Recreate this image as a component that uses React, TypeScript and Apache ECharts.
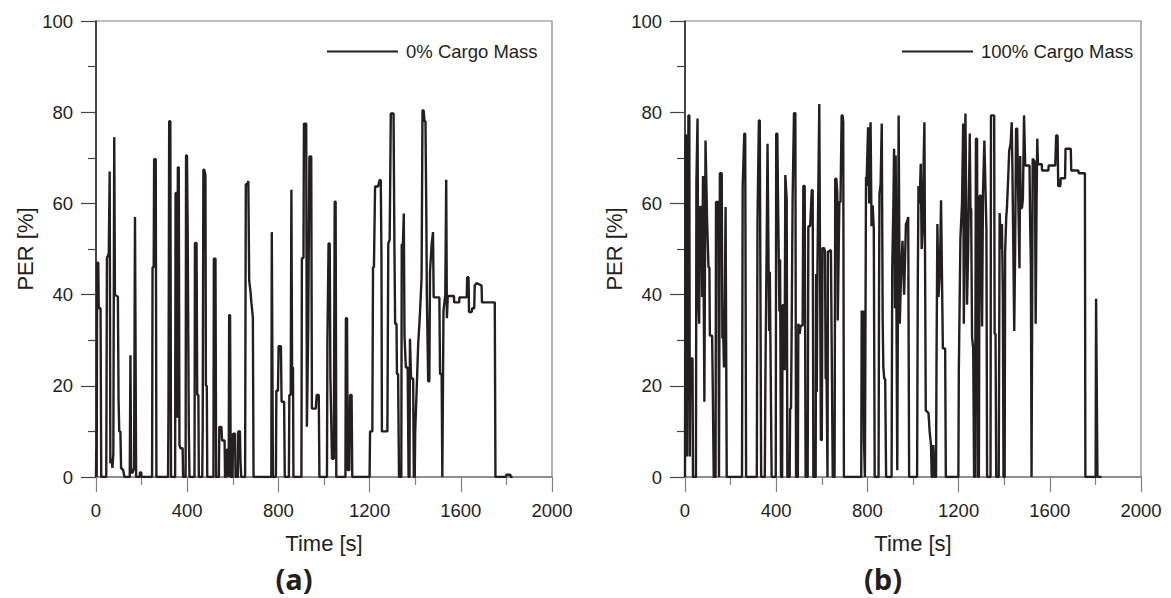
import React, { useEffect, useRef } from "react";
import * as echarts from "echarts";

const xTicks = [0, 400, 800, 1200, 1600, 2000];
const yTicks = [0, 20, 40, 60, 80, 100];
const seriesNames = ["0% Cargo Mass", "100% Cargo Mass"];
const panelLabels = ["(a)", "(b)"];
const axisNames = { x: "Time [s]", y: "PER [%]" };

// 0% cargo mass: [time s, PER %]
const perEmpty: [number, number][] = [
  [0, 0], [1, 6], [3, 0], [5, 47], [10, 47], [12, 37], [20, 37], [23, 0],
  [45, 0], [48, 48], [56, 49], [60, 67], [63, 3], [68, 4], [72, 2], [76, 5], [80, 74.5], [83, 40], [96, 39.5], [99, 17], [102, 10], [107, 10], [110, 2], [119, 1.5], [125, 0],
  [148, 0], [151, 26.7], [154, 1], [161, 1], [167, 2], [171, 57], [173, 57], [176, 0], [191, 0], [193, 1], [198, 1], [200, 0],
  [246, 0], [248, 46], [253, 46], [255, 69.7], [262, 69.7], [265, 0],
  [316, 0], [318, 16.5], [321, 78], [326, 78], [329, 0],
  [347, 0], [349, 62.3], [354, 62.3], [356, 13], [359, 67.9], [363, 67.9], [366, 7], [370, 6.3], [380, 6.3], [382, 0],
  [393, 0], [395, 70.5], [399, 70.5], [402, 55], [407, 11], [410, 0],
  [432, 0], [434, 51.3], [441, 51.3], [444, 18], [449, 18], [451, 0],
  [466, 0], [468, 11], [471, 67.4], [475, 67.4], [480, 66.2], [482, 20], [486, 20], [488, 0],
  [515, 0], [517, 47.9], [524, 47.9], [527, 0],
  [539, 0], [541, 11], [550, 11], [553, 8], [564, 8], [566, 0],
  [571, 0], [573, 6], [580, 6], [582, 0], [584, 35.5], [588, 35.5], [591, 0],
  [599, 0], [601, 9.5], [610, 9.5], [612, 0],
  [622, 0], [624, 10], [631, 10], [634, 3], [637, 0],
  [654, 0], [657, 64.2], [664, 64.2], [668, 64.9], [672, 43], [677, 41], [682, 38], [688, 35], [691, 0],
  [769, 0], [771, 53.7], [774, 53.7], [776, 0],
  [789, 0], [791, 18.9], [798, 18.9], [801, 28.7], [811, 28.7], [814, 16.5], [825, 16.5], [828, 0],
  [846, 0], [848, 18], [854, 18], [857, 63], [860, 24], [864, 24], [866, 0],
  [901, 0], [903, 48], [910, 48], [912, 77.5], [922, 77.5], [925, 11], [931, 33.6], [936, 70.3], [944, 70.3], [947, 15], [964, 15], [968, 18], [977, 18], [980, 0],
  [1013, 0], [1015, 30], [1020, 51.2], [1025, 51.2], [1028, 22], [1035, 4], [1043, 4], [1047, 60.4], [1051, 60.4], [1054, 0],
  [1094, 0], [1096, 34.8], [1101, 34.8], [1104, 1.5], [1111, 1.5], [1114, 18], [1121, 18], [1124, 0],
  [1200, 0], [1202, 10], [1212, 10], [1215, 46], [1219, 46], [1224, 63.7], [1237, 63.7], [1244, 65.1], [1249, 65.1], [1252, 48.4], [1254, 10], [1278, 10],
  [1282, 51.2], [1288, 52], [1293, 79.7], [1305, 79.7], [1309, 49.7], [1312, 33.6], [1318, 33.6], [1320, 22.6], [1325, 22.6], [1329, 0],
  [1339, 0], [1341, 51], [1346, 51], [1350, 57.8], [1353, 31], [1359, 24], [1367, 24], [1371, 0], [1375, 0], [1377, 30.3], [1382, 21.6], [1391, 21.6], [1394, 0],
  [1398, 0], [1400, 10], [1407, 20], [1413, 29], [1421, 36], [1428, 43.7], [1432, 80.4], [1437, 80.4], [1441, 78], [1445, 78], [1449, 56.4], [1451, 40], [1457, 21], [1462, 21],
  [1465, 45], [1472, 51], [1478, 53.7], [1481, 39.4], [1506, 39.4], [1509, 22.6], [1516, 22.6], [1519, 0],
  [1522, 0], [1524, 36.4], [1532, 40], [1536, 65.2], [1539, 34.8], [1543, 39.7], [1570, 39.7], [1571, 38.3], [1593, 38.3], [1594, 39.4], [1626, 39.4],
  [1628, 43.8], [1634, 43.8], [1636, 36.2], [1648, 36.2], [1650, 37], [1659, 37], [1661, 42], [1669, 42.5], [1691, 42], [1693, 38.3], [1749, 38.3], [1752, 0],
  [1797, 0], [1800, 0.5], [1817, 0.5], [1820, 0], [1827, 0],
];

// 100% cargo mass: [time s, PER %]
const perFull: [number, number][] = [
  [0, 0], [2, 74.9], [7, 74.9], [9, 4.5], [12, 40], [15, 79.3], [19, 79.3], [21, 4.5], [24, 26], [33, 26], [35, 0],
  [48, 0], [50, 64.7], [55, 78.6], [58, 40], [62, 33.6], [65, 59.2], [72, 59.2], [75, 39.5], [79, 66], [82, 66], [85, 16.5], [88, 16.5], [90, 73.8], [93, 73.8], [97, 56], [103, 46], [107, 46], [109, 31], [119, 31], [122, 19], [126, 0],
  [134, 0], [136, 60.3], [146, 60.3], [149, 0], [151, 0], [153, 66.6], [161, 66.6], [164, 30.5], [168, 30.5], [171, 24], [175, 40], [178, 59.2], [181, 59.2], [183, 0],
  [250, 0], [253, 63.8], [260, 75.3], [264, 75.3], [268, 0],
  [315, 0], [318, 56], [324, 78.2], [328, 78.2], [334, 0],
  [350, 0], [353, 24.1], [358, 50], [362, 73.1], [365, 73.1], [369, 32], [372, 45], [375, 45], [380, 0],
  [398, 0], [400, 75.3], [405, 75.3], [408, 61], [411, 61], [414, 36.3], [417, 47.7], [419, 47.7], [421, 0],
  [426, 0], [428, 37.7], [434, 37.7], [437, 23.4], [440, 66.2], [443, 66.2], [446, 61], [449, 0],
  [459, 0], [461, 15], [465, 15], [468, 33.6], [472, 61], [478, 79.8], [484, 79.8], [487, 0],
  [495, 0], [497, 33.6], [503, 31.4], [507, 33.2], [516, 33.2], [519, 63.8], [525, 63.8], [529, 0],
  [538, 0], [541, 55], [549, 55], [556, 62.9], [560, 62.9], [563, 0],
  [573, 0], [575, 44.5], [578, 18.7], [581, 46.4], [584, 46.4], [589, 81.8], [592, 81.8], [596, 8.1], [600, 8.1], [603, 50.2], [610, 50.2], [614, 49.5], [617, 21.6], [621, 21.6], [625, 0], [627, 49.4], [640, 49.8], [643, 49.8], [648, 0],
  [656, 0], [659, 65.4], [664, 65.4], [668, 62.1], [670, 34.3], [673, 34.3], [677, 60.3], [682, 60.3], [687, 79.3], [691, 79.3], [694, 77.8], [697, 0],
  [773, 0], [775, 36.5], [779, 24.1], [782, 36.5], [785, 8], [789, 0],
  [792, 0], [794, 65.8], [796, 63.8], [803, 76.7], [808, 60], [814, 77.8], [818, 55], [823, 59.6], [826, 59.6], [828, 54.4], [832, 0],
  [849, 0], [851, 40], [853, 62.1], [858, 64.3], [863, 77.5], [865, 77.5], [867, 34.3], [870, 24], [874, 21.5], [878, 21.5], [882, 0],
  [906, 0], [909, 46], [914, 60], [917, 72], [921, 37], [924, 70.5], [927, 70.5], [931, 1.5], [934, 1.5], [937, 79.3], [940, 79.3], [942, 33.6], [948, 45], [954, 51.8], [957, 51.8], [961, 40], [969, 55.5], [974, 56], [979, 57], [983, 0],
  [1018, 0], [1021, 42.5], [1024, 63.8], [1029, 60], [1034, 68.7], [1038, 50], [1043, 55], [1047, 70], [1050, 77.8], [1053, 77.8], [1056, 14.6], [1068, 14], [1073, 10], [1079, 7], [1082, 0], [1087, 0], [1089, 7], [1092, 7], [1095, 0],
  [1101, 0], [1103, 24], [1107, 55.5], [1112, 39.5], [1118, 45], [1123, 60.7], [1126, 60.7], [1131, 28.2], [1141, 28.2], [1144, 0],
  [1199, 0], [1201, 23.4], [1208, 52.4], [1215, 60], [1220, 77.5], [1223, 33.6], [1227, 60], [1230, 79.7], [1233, 79.7], [1237, 37.8], [1242, 50], [1249, 75.3], [1252, 59], [1255, 58.8], [1259, 30.6], [1264, 28.2], [1268, 0],
  [1272, 0], [1276, 74.2], [1281, 74.2], [1284, 0], [1289, 0], [1292, 61.6], [1297, 61.8], [1303, 33], [1307, 62.4], [1313, 73.8], [1316, 73.8], [1322, 54.4], [1325, 0],
  [1340, 0], [1342, 79.3], [1356, 79.3], [1358, 31.4], [1362, 31.4], [1365, 0],
  [1376, 0], [1380, 57.9], [1386, 50], [1390, 55.5], [1394, 40], [1397, 0], [1402, 0], [1404, 49.1], [1409, 57], [1412, 59], [1417, 65], [1422, 71.6], [1428, 73], [1433, 77.8], [1436, 67.9], [1440, 50], [1444, 32], [1448, 50],
  [1452, 76.4], [1457, 76.4], [1462, 60], [1467, 45.8], [1470, 70.4], [1473, 59], [1478, 59], [1482, 61], [1487, 79.3], [1489, 79.3], [1492, 68.3], [1511, 68.3], [1514, 55], [1517, 46.4], [1520, 0],
  [1523, 0], [1525, 69.8], [1535, 69.1], [1538, 33.6], [1542, 60], [1545, 74.2], [1548, 68.6], [1565, 68.6], [1566, 67.2], [1594, 67.2], [1595, 68.3], [1624, 68.3],
  [1628, 74.9], [1634, 74.9], [1637, 63.8], [1646, 63.8], [1648, 65.5], [1667, 65.5], [1669, 72], [1692, 72], [1694, 67.2], [1725, 67.2], [1727, 66.6], [1754, 66.6], [1756, 0],
  [1801, 0], [1803, 39.1], [1806, 39.1], [1809, 0], [1827, 0],
];

const INK = "#231f20";
const GREY = "#808080";

export default function App() {
  const ref = useRef<HTMLDivElement>(null);
  useEffect(() => {
    document.body.style.margin = "0";
    const chart = echarts.init(ref.current!, null, { renderer: "svg" });
    const lefts = [96, 685];
    const grids = lefts.map((l) => ({
      left: l, top: 21, width: 456, height: 456,
      show: true, borderColor: GREY, borderWidth: 1.2, backgroundColor: "transparent",
    }));
    const xAxes = lefts.map((_, i) => ({
      type: "value", gridIndex: i, min: xTicks[0], max: xTicks[xTicks.length - 1],
      interval: xTicks[1] - xTicks[0],
      name: axisNames.x, nameLocation: "middle", nameGap: 55,
      nameTextStyle: { fontFamily: "Liberation Sans, Arial", fontSize: 22, color: INK },
      axisLine: { show: true, lineStyle: { color: GREY, width: 1.5 } },
      axisTick: { show: true, inside: false, length: 15, lineStyle: { color: GREY, width: 1.2 } },
      minorTick: { show: true, splitNumber: 2, length: 8, lineStyle: { color: GREY, width: 1.2 } },
      axisLabel: {
        margin: 24, fontFamily: "Liberation Sans, Arial", fontSize: 18.5, color: INK,
        formatter: (v: number) => String(v),
      },
      splitLine: { show: false },
    }));
    const yAxes = lefts.map((_, i) => ({
      type: "value", gridIndex: i, min: yTicks[0], max: yTicks[yTicks.length - 1],
      interval: yTicks[1] - yTicks[0],
      name: axisNames.y, nameLocation: "middle", nameGap: 60,
      nameTextStyle: { fontFamily: "Liberation Sans, Arial", fontSize: 22, color: INK },
      axisLine: { show: true, lineStyle: { color: INK, width: 1.5 } },
      axisTick: { show: true, inside: false, length: 15, lineStyle: { color: "#444", width: 1.2 } },
      minorTick: { show: true, splitNumber: 2, length: 8, lineStyle: { color: "#444", width: 1.2 } },
      axisLabel: {
        margin: 23, fontFamily: "Liberation Sans, Arial", fontSize: 18.5, color: INK,
        formatter: (v: number) => String(v),
      },
      splitLine: { show: false },
    }));
    const datas = [perEmpty, perFull];
    const series = datas.map((d, i) => ({
      name: seriesNames[i], type: "line", xAxisIndex: i, yAxisIndex: i,
      data: d, symbol: "none", showSymbol: false,
      lineStyle: { color: INK, width: 2.4 }, itemStyle: { color: INK },
      clip: true,
    }));
    const legends = [322, 897].map((l, i) => ({
      data: [seriesNames[i]], left: l, top: 37, itemWidth: 71, itemHeight: 14,
      icon: "path://M0,6 L71,6 L71,8 L0,8 Z",
      textStyle: { fontFamily: "Liberation Sans, Arial", fontSize: 18.5, color: INK, padding: [0, 0, 0, 3] },
      selectedMode: false,
    }));
    chart.setOption({
      animation: false,
      backgroundColor: "#ffffff",
      grid: grids,
      xAxis: xAxes,
      yAxis: yAxes,
      legend: legends,
      series,
      graphic: [294, 883].map((x, i) => ({
        type: "text", x, y: 578,
        style: {
          text: panelLabels[i], font: 'bold 29px "Open Sans", sans-serif',
          fill: INK, textAlign: "center", textVerticalAlign: "middle",
        },
      })),
    });
    return () => chart.dispose();
  }, []);
  return (
    <div
      ref={ref}
      style={{ position: "absolute", left: 0, top: 0, width: 1171, height: 598, background: "#fff" }}
    />
  );
}
